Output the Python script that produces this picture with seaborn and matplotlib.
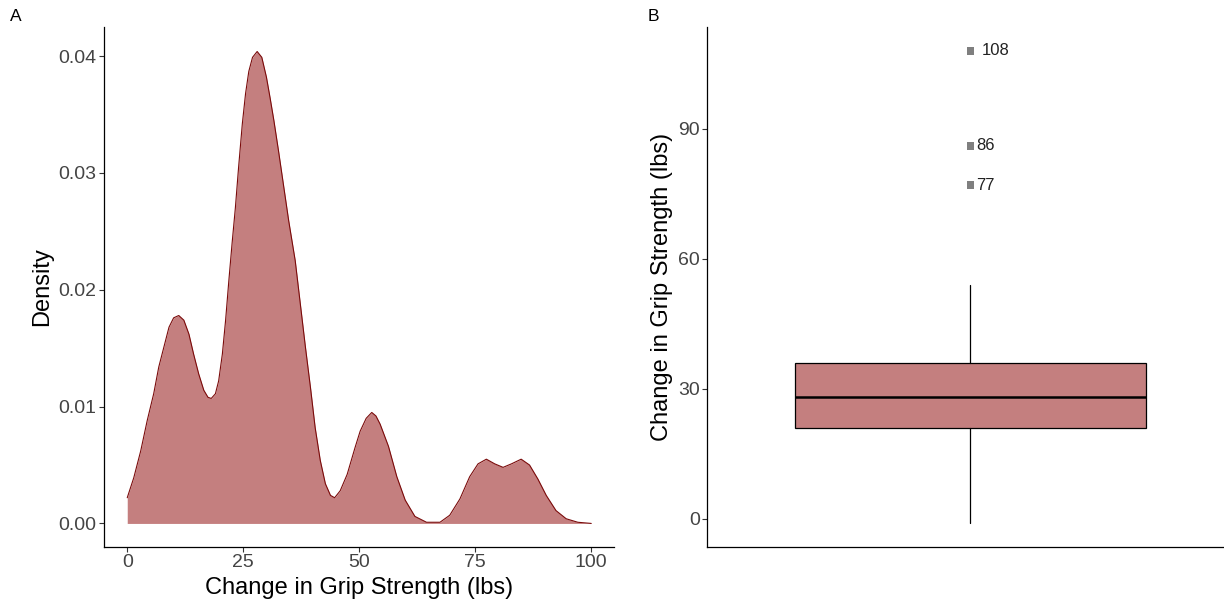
import matplotlib
matplotlib.use("Agg")
import matplotlib.pyplot as plt
import seaborn as sns
import pandas as pd

# Courbe de densité (A)
grip_x = [0, 1.4, 2.9, 4.3, 5.7, 6.8, 7.9, 9.0, 10.0, 11.1, 12.2, 13.3, 14.3,
          15.4, 16.5, 17.4, 18.1, 19.0, 19.7, 20.5, 21.2, 21.9, 22.6, 23.3,
          24.0, 24.8, 25.5, 26.2, 27.0, 28.0, 29.0, 30.0, 30.8, 31.6, 32.6,
          33.7, 34.8, 36.2, 37.3, 38.4, 39.5, 40.5, 41.6, 42.7, 43.8, 44.7,
          45.9, 47.4, 49.1, 50.2, 51.5, 52.7, 53.6, 54.5, 56.3, 58.1, 59.9,
          62.0, 64.5, 67.4, 69.5, 71.7, 73.8, 75.6, 77.4, 79.2, 81.0, 82.8,
          84.9, 86.7, 88.5, 90.3, 92.4, 94.6, 97.1, 100]
grip_density = [0.0022, 0.0039, 0.0062, 0.0088, 0.0111, 0.0134, 0.0151, 0.0168,
                0.0176, 0.0178, 0.0174, 0.0162, 0.0145, 0.0128, 0.0114, 0.0108,
                0.0107, 0.0111, 0.0122, 0.0145, 0.0174, 0.0208, 0.0240, 0.0270,
                0.0305, 0.0342, 0.0368, 0.0387, 0.0399, 0.0404, 0.0399, 0.0382,
                0.0364, 0.0345, 0.0319, 0.0289, 0.0259, 0.0225, 0.0188, 0.0151,
                0.0116, 0.0082, 0.0054, 0.0034, 0.0024, 0.0022, 0.0028, 0.0042,
                0.0065, 0.0079, 0.0090, 0.0095, 0.0092, 0.0085, 0.0066, 0.0040,
                0.0020, 0.0006, 0.0001, 0.0001, 0.0007, 0.0021, 0.0040, 0.0051,
                0.0055, 0.0051, 0.0048, 0.0051, 0.0055, 0.0050, 0.0038, 0.0024,
                0.0011, 0.0004, 0.0001, 0.0]

# Boîte à moustaches (B)
box_low, box_q1, box_med, box_q3, box_high = -1, 21, 28, 36, 54
outliers = [108, 86, 77]

x_ticks = [0, 25, 50, 75, 100]
y_ticks_a = [0.00, 0.01, 0.02, 0.03, 0.04]
y_ticks_b = [0, 30, 60, 90]

fill_col = (139 / 255, 0, 0, 0.5)
line_col = "#7a0a0a"
tick_col = "#444444"

sns.set_theme(style="ticks")
plt.rcParams["font.family"] = ["Liberation Sans", "DejaVu Sans"]

fig = plt.figure(figsize=(12.24, 6.13), dpi=100)
ax1 = fig.add_axes([0.085, 0.108, 0.417, 0.848])
ax2 = fig.add_axes([0.578, 0.108, 0.4297, 0.848])

# --- Panel A : densité
dens = pd.DataFrame({"x": grip_x, "d": grip_density})
ax1.fill_between(dens["x"], 0, dens["d"], color=fill_col, linewidth=0)
sns.lineplot(data=dens, x="x", y="d", ax=ax1, color=line_col, linewidth=0.8,
             sort=False, estimator=None)
ax1.set_xlim(-5, 105)
ax1.set_ylim(-0.0020, 0.0425)
ax1.set_xticks(x_ticks)
ax1.set_xticklabels([str(v) for v in x_ticks])
ax1.set_yticks(y_ticks_a)
ax1.set_yticklabels([f"{v:.2f}" for v in y_ticks_a])
ax1.set_xlabel("Change in Grip Strength (lbs)", fontsize=17, color="black")
ax1.set_ylabel("Density", fontsize=17, color="black")

# --- Panel B : boxplot
stats = [dict(whislo=box_low, q1=box_q1, med=box_med, q3=box_q3,
              whishi=box_high, fliers=[])]
ax2.bxp(stats, positions=[1], widths=0.80, patch_artist=True, showcaps=False,
        boxprops=dict(facecolor=fill_col, edgecolor="black", linewidth=0.9),
        medianprops=dict(color="black", linewidth=1.8),
        whiskerprops=dict(color="black", linewidth=0.9))
out_df = pd.DataFrame({"x": [1] * len(outliers), "y": outliers})
sns.scatterplot(data=out_df, x="x", y="y", ax=ax2, marker="s", s=32,
                color="#7F7F7F", edgecolor="none", zorder=3)
for val in outliers:
    lab = str(val)
    off = 4.0 + 4.1 * (len(lab) - 2)
    ax2.annotate(lab, xy=(1, val), xytext=(off, 0), textcoords="offset points",
                 ha="left", va="center", fontsize=12, color="#222222")
ax2.set_xlim(0.4, 1.6)
ax2.set_ylim(-6.45, 113.45)
ax2.set_yticks(y_ticks_b)
ax2.set_yticklabels([str(v) for v in y_ticks_b])
ax2.set_xticks([])
ax2.set_xlabel("")
ax2.set_ylabel("Change in Grip Strength (lbs)", fontsize=17, color="black")

for ax in (ax1, ax2):
    sns.despine(ax=ax)
    ax.tick_params(axis="both", labelsize=14, labelcolor=tick_col,
                   color="#333333", length=3.5, width=0.8, pad=2)
    for sp in ("left", "bottom"):
        ax.spines[sp].set_color("black")
        ax.spines[sp].set_linewidth(0.9)

fig.text(0.008, 0.965, "A", fontsize=12.5, color="black")
fig.text(0.529, 0.965, "B", fontsize=12.5, color="black")

fig.savefig("out.png", dpi=100)
